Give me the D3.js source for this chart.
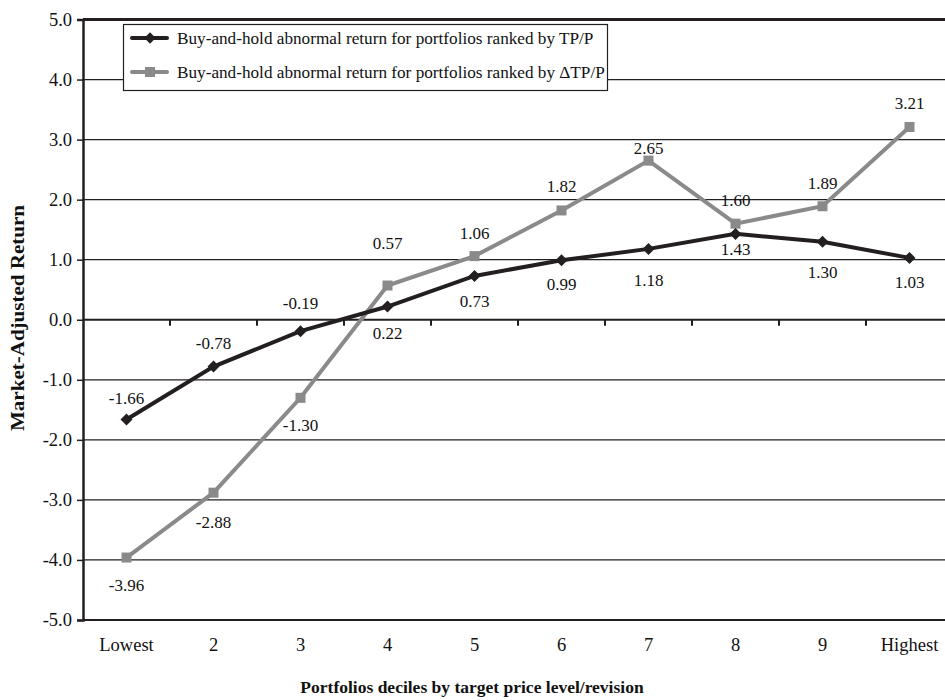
<!DOCTYPE html>
<html><head><meta charset="utf-8">
<script src="https://cdn.jsdelivr.net/npm/d3@7"></script>
<style>
html,body{margin:0;padding:0;background:#fff;}
svg text{font-family:"Liberation Serif","DejaVu Serif",serif !important;}
</style></head>
<body>
<svg id="c" width="945" height="700"></svg>
<script>
const categories = ["Lowest","2","3","4","5","6","7","8","9","Highest"];
const tpValues = [-1.66,-0.78,-0.19,0.22,0.73,0.99,1.18,1.43,1.30,1.03];
const dtpValues = [-3.96,-2.88,-1.30,0.57,1.06,1.82,2.65,1.60,1.89,3.21];
const yTicks = [-5,-4,-3,-2,-1,0,1,2,3,4,5];
const seriesNames = ["Buy-and-hold abnormal return for portfolios ranked by TP/P",
                     "Buy-and-hold abnormal return for portfolios ranked by \u0394TP/P"];
// label vertical offsets (layout)
const tpLabelDy = [-21,-24,-28,27,25,24,31,15,30,24];
const dtpLabelDy = [28,29,27,-42,-23,-24,-13,-24,-23,-24];

const FONT = "'Liberation Serif', 'DejaVu Serif', serif";
const svg = d3.select("#c");
const L = 83, R = 953, T = 19.5, B = 620;
const x = d3.scaleBand().domain(categories).range([L,R]);
const y = d3.scaleLinear().domain([-5,5]).range([B,T]);
const dark = "#231f20", gray = "#8a8a8a";
const fmt1 = d => d3.format(".1f")(d).replace("\u2212","-");
const fmt2 = d => d3.format(".2f")(d).replace("\u2212","-");

// gridlines
svg.append("g").selectAll("line").data(yTicks.filter(d=>d!==5 && d!==-5 && d!==0)).join("line")
  .attr("x1",L).attr("x2",945).attr("y1",d=>y(d)).attr("y2",d=>y(d))
  .attr("stroke",dark).attr("stroke-width",1.2);
svg.append("line").attr("x1",L).attr("x2",945).attr("y1",y(5)).attr("y2",y(5))
  .attr("stroke",dark).attr("stroke-width",3);
svg.append("line").attr("x1",L).attr("x2",945).attr("y1",y(-5)).attr("y2",y(-5))
  .attr("stroke",dark).attr("stroke-width",2);
svg.append("line").attr("x1",L).attr("x2",945).attr("y1",y(0)).attr("y2",y(0))
  .attr("stroke",dark).attr("stroke-width",2);
svg.append("g").selectAll("line").data(categories.slice(1)).join("line")
  .attr("x1",d=>x(d)).attr("x2",d=>x(d)).attr("y1",y(0)).attr("y2",y(0)+6)
  .attr("stroke",dark).attr("stroke-width",2);

// y axis
const yAxis = d3.axisLeft(y).tickValues(yTicks).tickSize(6).tickPadding(5).tickFormat(fmt1);
const gy = svg.append("g").attr("transform",`translate(${L},0)`).call(yAxis)
  .attr("font-family",FONT).attr("font-size",18.5);
gy.select(".domain").attr("stroke",dark).attr("stroke-width",2.5);
gy.selectAll(".tick line").attr("stroke",dark).attr("stroke-width",1.5);
gy.selectAll(".tick text").attr("fill","#111");

// x category labels
svg.append("g").selectAll("text").data(categories).join("text")
  .attr("x",d=>x(d)+x.bandwidth()/2).attr("y",651)
  .attr("text-anchor","middle").attr("font-family",FONT).attr("font-size",18.5).attr("fill","#111").text(d=>d);

// axis titles
svg.append("text").attr("transform","translate(24,318) rotate(-90)")
  .attr("text-anchor","middle").attr("font-weight","bold").attr("font-family",FONT).attr("font-size",18.5).attr("fill","#111")
  .attr("textLength",226).attr("lengthAdjust","spacingAndGlyphs")
  .text("Market-Adjusted Return");
svg.append("text").attr("x",472).attr("y",693)
  .attr("text-anchor","middle").attr("font-weight","bold").attr("font-family",FONT).attr("font-size",17.5).attr("fill","#111")
  .text("Portfolios deciles by target price level/revision");

const cx = (i) => x(categories[i])+x.bandwidth()/2;
const line = d3.line().x((d,i)=>cx(i)).y(d=>y(d));

// gray series
svg.append("path").datum(dtpValues).attr("d",line).attr("fill","none")
  .attr("stroke",gray).attr("stroke-width",4);
svg.append("g").selectAll("rect").data(dtpValues).join("rect")
  .attr("x",(d,i)=>cx(i)-5).attr("y",d=>y(d)-5).attr("width",10).attr("height",10)
  .attr("fill",gray);
// black series
svg.append("path").datum(tpValues).attr("d",line).attr("fill","none")
  .attr("stroke",dark).attr("stroke-width",4);
svg.append("g").selectAll("path").data(tpValues).join("path")
  .attr("d",d3.symbol().type(d3.symbolSquare).size(72))
  .attr("transform",(d,i)=>`translate(${cx(i)},${y(d)}) rotate(45)`)
  .attr("fill",dark);

// labels
svg.append("g").selectAll("text").data(tpValues).join("text")
  .attr("x",(d,i)=>cx(i)).attr("y",(d,i)=>y(d)+tpLabelDy[i])
  .attr("dy","0.35em").attr("text-anchor","middle").attr("font-family",FONT).attr("font-size",17).attr("fill","#111")
  .text(d=>fmt2(d));
svg.append("g").selectAll("text").data(dtpValues).join("text")
  .attr("x",(d,i)=>cx(i)).attr("y",(d,i)=>y(d)+dtpLabelDy[i])
  .attr("dy","0.35em").attr("text-anchor","middle").attr("font-family",FONT).attr("font-size",17).attr("fill","#111")
  .text(d=>fmt2(d));

// legend
const lg = svg.append("g");
lg.append("rect").attr("x",123.5).attr("y",24.5).attr("width",484).attr("height",66)
  .attr("fill","#fff").attr("stroke",dark).attr("stroke-width",1.2);
[0,1].forEach(i=>{
  const yy = i===0 ? 38 : 72;
  lg.append("line").attr("x1",132).attr("x2",167).attr("y1",yy).attr("y2",yy)
    .attr("stroke",i===0?dark:gray).attr("stroke-width",4).attr("stroke-linecap","round");
  if(i===0){
    lg.append("path").attr("d",d3.symbol().type(d3.symbolSquare).size(64))
      .attr("transform",`translate(150,${yy}) rotate(45)`).attr("fill",dark);
  } else {
    lg.append("rect").attr("x",145).attr("y",yy-5).attr("width",10).attr("height",10).attr("fill",gray);
  }
  lg.append("text").attr("x",177).attr("y",yy).attr("dy","0.35em").attr("font-family",FONT).attr("font-size",17.2).attr("fill","#111")
    .text(seriesNames[i]);
});
</script>
</body></html>
